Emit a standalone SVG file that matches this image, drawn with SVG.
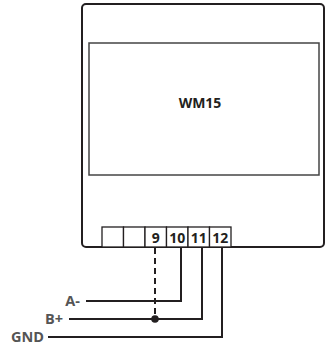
<svg xmlns="http://www.w3.org/2000/svg" width="327" height="348" viewBox="0 0 327 348">
<style>
.box{fill:none;stroke:#231f20;stroke-width:2}
.disp{fill:none;stroke:#444;stroke-width:1.5}
.term{fill:#fff;stroke:#231f20;stroke-width:1.3}
.w{fill:none;stroke:#231f20;stroke-width:2}
.dash{fill:none;stroke:#231f20;stroke-width:2;stroke-dasharray:6,4}
.t{font-family:"Open Sans","Liberation Sans",sans-serif;font-weight:bold;font-size:14px;fill:#231f20}
.lbl{font-family:"Open Sans","Liberation Sans",sans-serif;font-weight:bold;font-size:14.5px;fill:#555}
</style>
<rect width="327" height="348" fill="#fff"/>
<g id="device">
<rect class="box" x="82" y="4" width="242" height="243" rx="4"/>
<rect class="disp" x="89" y="43" width="230" height="132"/>
<text class="t" x="200" y="108" text-anchor="middle" font-size="14.5">WM15</text>
</g>
<g id="terminals">
<rect class="term" x="102" y="227" width="21.5" height="20"/>
<rect class="term" x="123.5" y="227" width="21.5" height="20"/>
<rect class="term" x="145" y="227" width="21.5" height="20"/>
<rect class="term" x="166.5" y="227" width="21.5" height="20"/>
<rect class="term" x="188" y="227" width="21.5" height="20"/>
<rect class="term" x="209.5" y="227" width="21.5" height="20"/>
<text class="t" x="155.7" y="243" text-anchor="middle">9</text>
<text class="t" x="177.2" y="243" text-anchor="middle">10</text>
<text class="t" x="198.7" y="243" text-anchor="middle">11</text>
<text class="t" x="220.2" y="243" text-anchor="middle">12</text>
</g>
<g id="connectors">
<line class="dash" x1="155" y1="248" x2="155" y2="319"/>
<polyline class="w" points="86,301 181,301 181,248"/>
<polyline class="w" points="69,319 202,319 202,248"/>
<polyline class="w" points="48,337 222,337 222,248"/>
<circle cx="155" cy="319" r="3.8" fill="#231f20"/>
</g>
<g id="labels">
<text class="lbl" x="80" y="306" text-anchor="end">A-</text>
<text class="lbl" x="63" y="324" text-anchor="end">B+</text>
<text class="lbl" x="44" y="342" text-anchor="end">GND</text>
</g>
</svg>
